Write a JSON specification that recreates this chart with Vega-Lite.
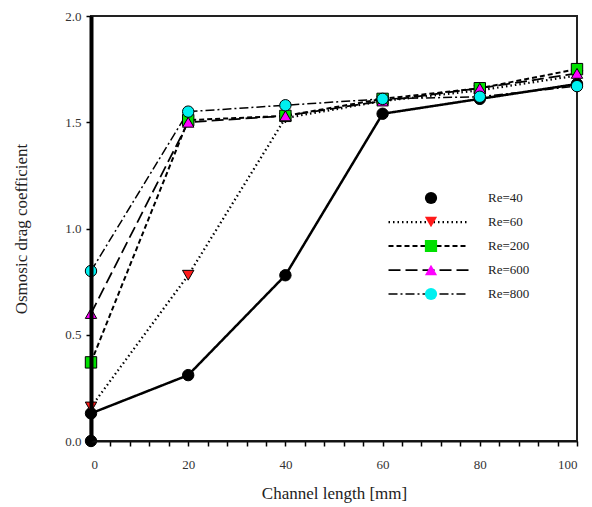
{
  "$schema": "https://vega.github.io/schema/vega-lite/v6.json",
  "width": 486,
  "height": 425,
  "autosize": "none",
  "padding": {"left": 91, "top": 16, "right": 15, "bottom": 66},
  "background": "white",
  "config": {
    "view": {"stroke": "#222", "strokeWidth": 2},
    "font": "Liberation Serif"
  },
  "data": {
    "values": [
      {"x": 0, "re": 40, "y": 0.0},
      {"x": 0, "re": 40, "y": 0.13},
      {"x": 20, "re": 40, "y": 0.31},
      {"x": 40, "re": 40, "y": 0.78},
      {"x": 60, "re": 40, "y": 1.54},
      {"x": 80, "re": 40, "y": 1.61},
      {"x": 100, "re": 40, "y": 1.68},
      {"x": 0, "re": 60, "y": 0.16},
      {"x": 20, "re": 60, "y": 0.78},
      {"x": 40, "re": 60, "y": 1.52},
      {"x": 60, "re": 60, "y": 1.6},
      {"x": 80, "re": 60, "y": 1.65},
      {"x": 100, "re": 60, "y": 1.72},
      {"x": 0, "re": 200, "y": 0.37},
      {"x": 20, "re": 200, "y": 1.51},
      {"x": 40, "re": 200, "y": 1.53},
      {"x": 60, "re": 200, "y": 1.61},
      {"x": 80, "re": 200, "y": 1.66},
      {"x": 100, "re": 200, "y": 1.75},
      {"x": 0, "re": 600, "y": 0.6},
      {"x": 20, "re": 600, "y": 1.5},
      {"x": 40, "re": 600, "y": 1.53},
      {"x": 60, "re": 600, "y": 1.6},
      {"x": 80, "re": 600, "y": 1.66},
      {"x": 100, "re": 600, "y": 1.73},
      {"x": 0, "re": 800, "y": 0.8},
      {"x": 20, "re": 800, "y": 1.55},
      {"x": 40, "re": 800, "y": 1.58},
      {"x": 60, "re": 800, "y": 1.61},
      {"x": 80, "re": 800, "y": 1.62},
      {"x": 100, "re": 800, "y": 1.67}
    ]
  },
  "encoding": {
    "x": {
      "field": "x", "type": "quantitative",
      "scale": {"domain": [0, 100], "nice": false},
      "axis": {
        "orient": "bottom",
        "title": "Channel length [mm]",
        "values": [0,4,8,12,16,20,24,28,32,36,40,44,48,52,56,60,64,68,72,76,80,84,88,92,96,100],
        "labelExpr": "datum.value % 20 == 0 ? datum.label : ''",
        "grid": false,
        "ticks": true,
        "tickSize": 5,
        "tickWidth": 1.5,
        "tickColor": "black",
        "zindex": 1,
        "domainColor": "#111", "domainWidth": 2,
        "labelPadding": 12,
        "labelFont": "Liberation Serif", "labelFontSize": 13, "labelColor": "#333",
        "titleFont": "Liberation Serif", "titleFontSize": 17, "titleFontWeight": "normal", "titleColor": "#222",
        "titlePadding": 14
      }
    },
    "y": {
      "field": "y", "type": "quantitative",
      "scale": {"domain": [0, 2], "nice": false},
      "axis": {
        "orient": "left",
        "title": "Osmosic drag coefficient",
        "values": [0, 0.5, 1, 1.5, 2],
        "format": ".1f",
        "grid": false,
        "ticks": true,
        "tickSize": 5,
        "tickWidth": 1.5,
        "tickColor": "black",
        "zindex": 1,
        "domainColor": "#000", "domainWidth": 4,
        "labelPadding": 5,
        "labelFont": "Liberation Serif", "labelFontSize": 13, "labelColor": "#333",
        "titleFont": "Liberation Serif", "titleFontSize": 17, "titleFontWeight": "normal", "titleColor": "#222",
        "titlePadding": 34
      }
    }
  },
  "layer": [
    {
      "mark": {"type": "line", "color": "black"},
      "encoding": {
        "order": {"field": "y", "type": "quantitative"},
        "strokeDash": {
          "field": "re", "type": "ordinal",
          "scale": {"domain": [40, 60, 200, 600, 800], "range": [[1, 0], [1.5, 3], [5, 3], [12, 5], [9, 3, 2, 3]]},
          "legend": {
            "orient": "none", "legendX": 296, "legendY": 199,
            "title": null,
            "values": [60, 200, 600, 800],
            "symbolType": "stroke", "symbolSize": 6400,
            "symbolStrokeColor": "black", "symbolStrokeWidth": 1.8,
            "clipHeight": 14, "rowPadding": 10,
            "labelExpr": "''", "zindex": 1
          }
        },
        "strokeWidth": {
          "field": "re", "type": "ordinal",
          "scale": {"domain": [40, 60, 200, 600, 800], "range": [2.5, 1.5, 2, 2, 1.8]},
          "legend": null
        }
      }
    },
    {
      "mark": {"type": "point", "filled": true, "opacity": 1, "size": 130, "stroke": "black", "strokeWidth": 1},
      "encoding": {
        "shape": {
          "field": "re", "type": "ordinal",
          "scale": {"range": ["circle", "triangle-down", "square", "triangle-up", "circle"]},
          "legend": {
            "orient": "none", "legendX": 333, "legendY": 175,
            "title": null,
            "symbolSize": 150, "symbolStrokeColor": "black", "symbolStrokeWidth": 1,
            "clipHeight": 14, "rowPadding": 10,
            "labelOffset": 50,
            "labelExpr": "'Re=' + datum.label",
            "labelFont": "Liberation Serif", "labelFontSize": 13, "labelColor": "#222",
            "zindex": 2
          }
        },
        "fill": {
          "field": "re", "type": "ordinal",
          "scale": {"range": ["black", "#ff1a1a", "#00e000", "#ff00ff", "#00f0f0"]}
        }
      }
    }
  ]
}
